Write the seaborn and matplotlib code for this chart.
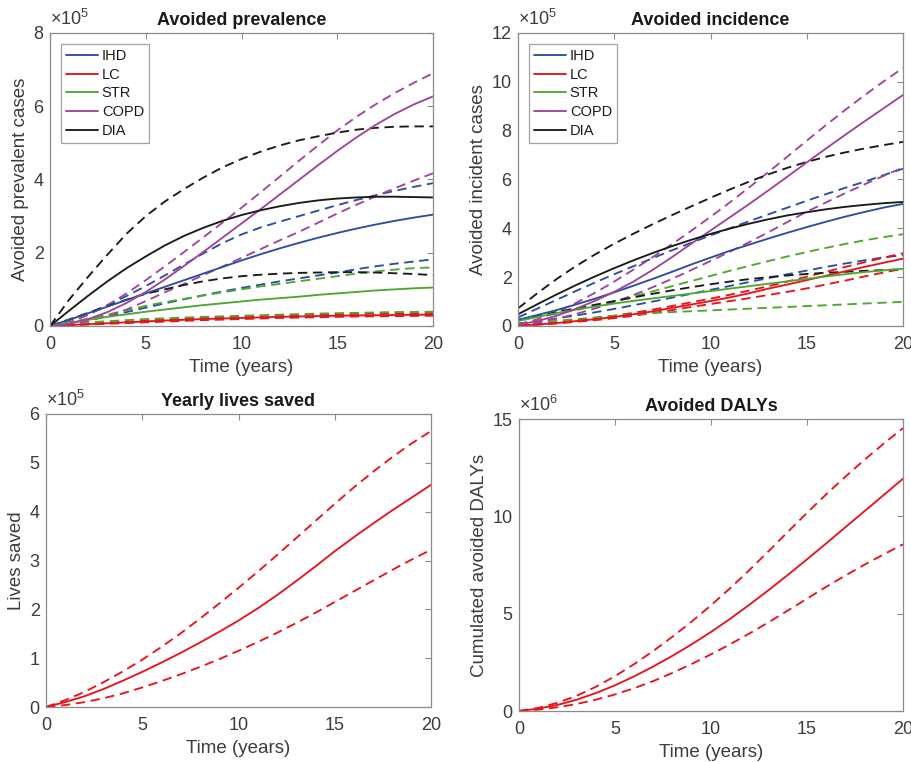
import numpy as np
import matplotlib
matplotlib.use("Agg")
import matplotlib.pyplot as plt
import seaborn as sns

sns.set_theme(style="white")
plt.rcParams["font.family"] = ["Liberation Sans", "DejaVu Sans"]
plt.rcParams["mathtext.fontset"] = "custom"
plt.rcParams["mathtext.rm"] = "Liberation Sans"
plt.rcParams["mathtext.it"] = "Liberation Sans:italic"

years = list(range(21))
diseases = ["IHD", "LC", "STR", "COPD", "DIA"]
colors = {"IHD": "#2b4ea2", "LC": "#e8141c", "STR": "#4ea72e",
          "COPD": "#a0449b", "DIA": "#1a1a1a"}

# Avoided prevalent cases (x1e5): central estimate, upper and lower bound
prev_ihd = [0, 0.17, 0.35, 0.53, 0.71, 0.89, 1.07, 1.25, 1.43, 1.61, 1.79,
            1.96, 2.12, 2.27, 2.41, 2.54, 2.66, 2.77, 2.87, 2.96, 3.04]
prev_ihd_hi = [0, 0.16, 0.35, 0.57, 0.82, 1.09, 1.38, 1.68, 1.98, 2.26, 2.50,
               2.69, 2.85, 3.00, 3.15, 3.30, 3.44, 3.57, 3.69, 3.80, 3.90]
prev_ihd_lo = [0, 0.08, 0.17, 0.27, 0.38, 0.50, 0.62, 0.73, 0.84, 0.94, 1.04,
               1.13, 1.22, 1.30, 1.38, 1.46, 1.55, 1.63, 1.70, 1.76, 1.82]
prev_lc = [0, 0.025, 0.05, 0.075, 0.10, 0.125, 0.15, 0.17, 0.19, 0.205, 0.22,
           0.235, 0.25, 0.26, 0.27, 0.28, 0.29, 0.295, 0.30, 0.305, 0.31]
prev_lc_hi = [0, 0.03, 0.06, 0.09, 0.12, 0.15, 0.18, 0.20, 0.22, 0.24, 0.26,
              0.275, 0.29, 0.30, 0.31, 0.32, 0.33, 0.34, 0.345, 0.35, 0.355]
prev_lc_lo = [0, 0.02, 0.04, 0.06, 0.08, 0.10, 0.12, 0.14, 0.16, 0.175, 0.19,
              0.205, 0.22, 0.23, 0.24, 0.25, 0.26, 0.265, 0.27, 0.275, 0.28]
prev_str = [0, 0.09, 0.17, 0.25, 0.32, 0.39, 0.45, 0.51, 0.57, 0.62, 0.67,
            0.72, 0.76, 0.80, 0.85, 0.89, 0.93, 0.97, 1.00, 1.03, 1.05]
prev_str_hi = [0, 0.10, 0.20, 0.31, 0.43, 0.55, 0.65, 0.74, 0.83, 0.92, 1.00,
               1.08, 1.15, 1.22, 1.29, 1.36, 1.43, 1.49, 1.54, 1.58, 1.60]
prev_str_lo = [0, 0.06, 0.10, 0.13, 0.16, 0.19, 0.21, 0.23, 0.25, 0.265, 0.28,
               0.295, 0.31, 0.325, 0.34, 0.35, 0.36, 0.37, 0.38, 0.385, 0.39]
prev_copd = [0, 0.06, 0.19, 0.38, 0.63, 0.93, 1.27, 1.64, 2.02, 2.41, 2.80,
             3.19, 3.59, 3.99, 4.39, 4.78, 5.15, 5.49, 5.79, 6.05, 6.27]
prev_copd_hi = [0, 0.10, 0.30, 0.57, 0.89, 1.25, 1.63, 2.02, 2.42, 2.82, 3.23,
                3.65, 4.08, 4.51, 4.93, 5.34, 5.71, 6.05, 6.36, 6.64, 6.90]
prev_copd_lo = [0, 0.05, 0.14, 0.27, 0.45, 0.68, 0.92, 1.15, 1.39, 1.62, 1.86,
                2.10, 2.34, 2.57, 2.82, 3.07, 3.31, 3.54, 3.76, 3.97, 4.17]
prev_dia = [0, 0.42, 0.83, 1.22, 1.58, 1.90, 2.20, 2.46, 2.68, 2.87, 3.03,
            3.16, 3.27, 3.36, 3.43, 3.48, 3.51, 3.53, 3.53, 3.52, 3.51]
prev_dia_hi = [0, 0.72, 1.35, 1.95, 2.52, 3.00, 3.40, 3.74, 4.05, 4.33, 4.56,
               4.76, 4.93, 5.07, 5.18, 5.28, 5.36, 5.41, 5.44, 5.45, 5.45]
prev_dia_lo = [0, 0.18, 0.36, 0.54, 0.72, 0.88, 1.00, 1.12, 1.22, 1.30, 1.36,
               1.40, 1.43, 1.45, 1.46, 1.47, 1.47, 1.46, 1.44, 1.42, 1.39]

# Avoided incident cases (x1e5)
inc_ihd = [0.25, 0.45, 0.65, 0.88, 1.12, 1.38, 1.65, 1.93, 2.22, 2.52, 2.80,
           3.08, 3.33, 3.58, 3.82, 4.05, 4.27, 4.48, 4.67, 4.85, 5.00]
inc_ihd_hi = [0.35, 0.71, 1.07, 1.43, 1.78, 2.12, 2.45, 2.78, 3.10, 3.41, 3.71,
              4.00, 4.29, 4.57, 4.85, 5.13, 5.40, 5.66, 5.91, 6.18, 6.44]
inc_ihd_lo = [0.10, 0.20, 0.31, 0.43, 0.56, 0.70, 0.85, 1.00, 1.16, 1.32, 1.48,
              1.64, 1.80, 1.96, 2.12, 2.27, 2.42, 2.56, 2.69, 2.81, 2.90]
inc_lc = [0.02, 0.06, 0.12, 0.20, 0.28, 0.37, 0.48, 0.60, 0.74, 0.88, 1.02,
          1.17, 1.34, 1.53, 1.70, 1.88, 2.06, 2.24, 2.42, 2.59, 2.76]
inc_lc_hi = [0.03, 0.08, 0.15, 0.23, 0.32, 0.42, 0.54, 0.67, 0.82, 0.97, 1.12,
             1.28, 1.45, 1.63, 1.82, 2.02, 2.22, 2.42, 2.61, 2.80, 2.98]
inc_lc_lo = [0.02, 0.05, 0.10, 0.17, 0.24, 0.32, 0.42, 0.53, 0.65, 0.78, 0.90,
             1.02, 1.14, 1.27, 1.40, 1.54, 1.70, 1.86, 2.03, 2.19, 2.35]
inc_str = [0.20, 0.37, 0.53, 0.67, 0.80, 0.92, 1.03, 1.13, 1.23, 1.33, 1.43,
           1.53, 1.63, 1.73, 1.83, 1.93, 2.03, 2.12, 2.21, 2.28, 2.34]
inc_str_hi = [0.25, 0.37, 0.50, 0.65, 0.82, 1.01, 1.21, 1.42, 1.63, 1.84, 2.05,
              2.26, 2.46, 2.66, 2.85, 3.03, 3.20, 3.36, 3.51, 3.64, 3.76]
inc_str_lo = [0.10, 0.15, 0.21, 0.28, 0.35, 0.42, 0.48, 0.53, 0.57, 0.605, 0.64,
              0.675, 0.71, 0.745, 0.78, 0.815, 0.85, 0.885, 0.92, 0.955, 0.99]
inc_copd = [0.05, 0.20, 0.42, 0.70, 1.03, 1.40, 1.82, 2.30, 2.82, 3.37, 3.91,
            4.45, 4.99, 5.55, 6.12, 6.70, 7.27, 7.83, 8.38, 8.92, 9.46]
inc_copd_hi = [0.05, 0.27, 0.57, 0.94, 1.36, 1.82, 2.31, 2.82, 3.35, 3.90, 4.47,
               5.06, 5.67, 6.30, 6.94, 7.59, 8.23, 8.85, 9.45, 10.02, 10.57]
inc_copd_lo = [0.05, 0.15, 0.30, 0.49, 0.72, 0.98, 1.27, 1.59, 1.93, 2.29, 2.66,
               3.04, 3.43, 3.84, 4.26, 4.68, 5.06, 5.44, 5.80, 6.15, 6.49]
inc_dia = [0.48, 0.89, 1.29, 1.67, 2.03, 2.37, 2.69, 2.99, 3.27, 3.53, 3.77,
           3.99, 4.19, 4.37, 4.53, 4.66, 4.78, 4.88, 4.96, 5.03, 5.08]
inc_dia_hi = [0.72, 1.34, 1.92, 2.45, 2.93, 3.37, 3.78, 4.17, 4.54, 4.90, 5.25,
              5.59, 5.91, 6.21, 6.48, 6.72, 6.93, 7.11, 7.27, 7.41, 7.54]
inc_dia_lo = [0.25, 0.41, 0.57, 0.72, 0.87, 1.02, 1.17, 1.32, 1.46, 1.59, 1.71,
              1.82, 1.92, 2.00, 2.07, 2.13, 2.18, 2.22, 2.26, 2.29, 2.32]

# Yearly lives saved (x1e5)
lives = [0, 0.10, 0.22, 0.37, 0.54, 0.72, 0.91, 1.11, 1.32, 1.54, 1.77,
         2.02, 2.29, 2.58, 2.88, 3.19, 3.48, 3.76, 4.03, 4.29, 4.55]
lives_hi = [0, 0.14, 0.31, 0.51, 0.73, 0.97, 1.23, 1.51, 1.81, 2.12, 2.44,
            2.77, 3.11, 3.46, 3.81, 4.16, 4.50, 4.82, 5.12, 5.40, 5.65]
lives_lo = [0, 0.04, 0.10, 0.18, 0.28, 0.40, 0.53, 0.67, 0.82, 0.98, 1.15,
            1.33, 1.52, 1.72, 1.93, 2.15, 2.37, 2.59, 2.81, 3.02, 3.22]

# Cumulated avoided DALYs (x1e6)
dalys = [0, 0.12, 0.31, 0.58, 0.92, 1.32, 1.78, 2.29, 2.84, 3.43, 4.06,
         4.74, 5.46, 6.21, 6.99, 7.79, 8.61, 9.44, 10.27, 11.10, 11.93]
dalys_hi = [0, 0.16, 0.42, 0.78, 1.24, 1.79, 2.41, 3.09, 3.82, 4.60, 5.43,
            6.31, 7.24, 8.21, 9.20, 10.18, 11.13, 12.04, 12.91, 13.74, 14.53]
dalys_lo = [0, 0.07, 0.19, 0.36, 0.58, 0.85, 1.17, 1.54, 1.96, 2.42, 2.91,
            3.43, 3.98, 4.56, 5.16, 5.77, 6.38, 6.96, 7.52, 8.05, 8.56]

prevalence = {
    "IHD": (prev_ihd, prev_ihd_hi, prev_ihd_lo),
    "LC": (prev_lc, prev_lc_hi, prev_lc_lo),
    "STR": (prev_str, prev_str_hi, prev_str_lo),
    "COPD": (prev_copd, prev_copd_hi, prev_copd_lo),
    "DIA": (prev_dia, prev_dia_hi, prev_dia_lo),
}
incidence = {
    "IHD": (inc_ihd, inc_ihd_hi, inc_ihd_lo),
    "LC": (inc_lc, inc_lc_hi, inc_lc_lo),
    "STR": (inc_str, inc_str_hi, inc_str_lo),
    "COPD": (inc_copd, inc_copd_hi, inc_copd_lo),
    "DIA": (inc_dia, inc_dia_hi, inc_dia_lo),
}

DASH = (0, (5.0, 3.0))
LW = 1.35
AX_GRAY = "#8c8c8c"
TXT_GRAY = "#3c3c3c"

fig = plt.figure(figsize=(9.12, 7.62), dpi=100)
ax_prev = fig.add_axes([50 / 912, 1 - 326 / 762, 383 / 912, 293 / 762])
ax_inc = fig.add_axes([518 / 912, 1 - 326 / 762, 385 / 912, 293 / 762])
ax_lives = fig.add_axes([46 / 912, 1 - 707 / 762, 385 / 912, 293 / 762])
ax_daly = fig.add_axes([519 / 912, 1 - 711 / 762, 384 / 912, 292 / 762])


def style_axes(ax, ymax, ystep, exponent, title, ylabel):
    ax.set_xlim(0, 20)
    ax.set_ylim(0, ymax)
    ax.set_xticks([0, 5, 10, 15, 20])
    ax.set_yticks(np.arange(0, ymax + 0.001, ystep))
    ax.yaxis.set_major_formatter(matplotlib.ticker.FormatStrFormatter("%g"))
    for s in ax.spines.values():
        s.set_color(AX_GRAY)
        s.set_linewidth(0.9)
    ax.tick_params(direction="in", length=4, width=0.8, color=AX_GRAY,
                   labelsize=13, labelcolor=TXT_GRAY, top=True, right=True)
    ax.tick_params(axis="x", pad=7.5)
    ax.tick_params(axis="y", pad=4.5)
    ax.set_title(title, fontsize=13, fontweight="bold", color="#1a1a1a", pad=6)
    ax.set_xlabel("Time (years)", fontsize=13.5, color=TXT_GRAY, labelpad=4)
    ax.set_ylabel(ylabel, fontsize=13.5, color=TXT_GRAY, labelpad=3)
    ax.text(0.0, 1.012, r"$\times 10^{%d}$" % exponent, transform=ax.transAxes,
            fontsize=13, color=TXT_GRAY, ha="left", va="bottom")


def draw_group(ax, groups):
    for name in diseases:
        mid, hi, lo = groups[name]
        c = colors[name]
        sns.lineplot(x=years, y=hi, ax=ax, color=c, linewidth=LW, linestyle=DASH)
        sns.lineplot(x=years, y=lo, ax=ax, color=c, linewidth=LW, linestyle=DASH)
    for name in diseases:
        mid, hi, lo = groups[name]
        sns.lineplot(x=years, y=mid, ax=ax, color=colors[name], linewidth=LW,
                     label=name)
    leg = ax.legend(loc="upper left", fontsize=10.5, frameon=True, fancybox=False,
                    borderpad=0.35, handlelength=2.2, handletextpad=0.25,
                    labelspacing=0.32, borderaxespad=0.75)
    leg.get_frame().set_edgecolor(AX_GRAY)
    leg.get_frame().set_linewidth(0.9)
    for t in leg.get_texts():
        t.set_color("#1a1a1a")


draw_group(ax_prev, prevalence)
style_axes(ax_prev, 8, 2, 5, "Avoided prevalence", "Avoided prevalent cases")

draw_group(ax_inc, incidence)
style_axes(ax_inc, 12, 2, 5, "Avoided incidence", "Avoided incident cases")

red = colors["LC"]
sns.lineplot(x=years, y=lives, ax=ax_lives, color=red, linewidth=LW)
sns.lineplot(x=years, y=lives_hi, ax=ax_lives, color=red, linewidth=LW, linestyle=DASH)
sns.lineplot(x=years, y=lives_lo, ax=ax_lives, color=red, linewidth=LW, linestyle=DASH)
style_axes(ax_lives, 6, 1, 5, "Yearly lives saved", "Lives saved")

sns.lineplot(x=years, y=dalys, ax=ax_daly, color=red, linewidth=LW)
sns.lineplot(x=years, y=dalys_hi, ax=ax_daly, color=red, linewidth=LW, linestyle=DASH)
sns.lineplot(x=years, y=dalys_lo, ax=ax_daly, color=red, linewidth=LW, linestyle=DASH)
style_axes(ax_daly, 15, 5, 6, "Avoided DALYs", "Cumulated avoided DALYs")

fig.savefig("out.png", dpi=100, facecolor="white")
